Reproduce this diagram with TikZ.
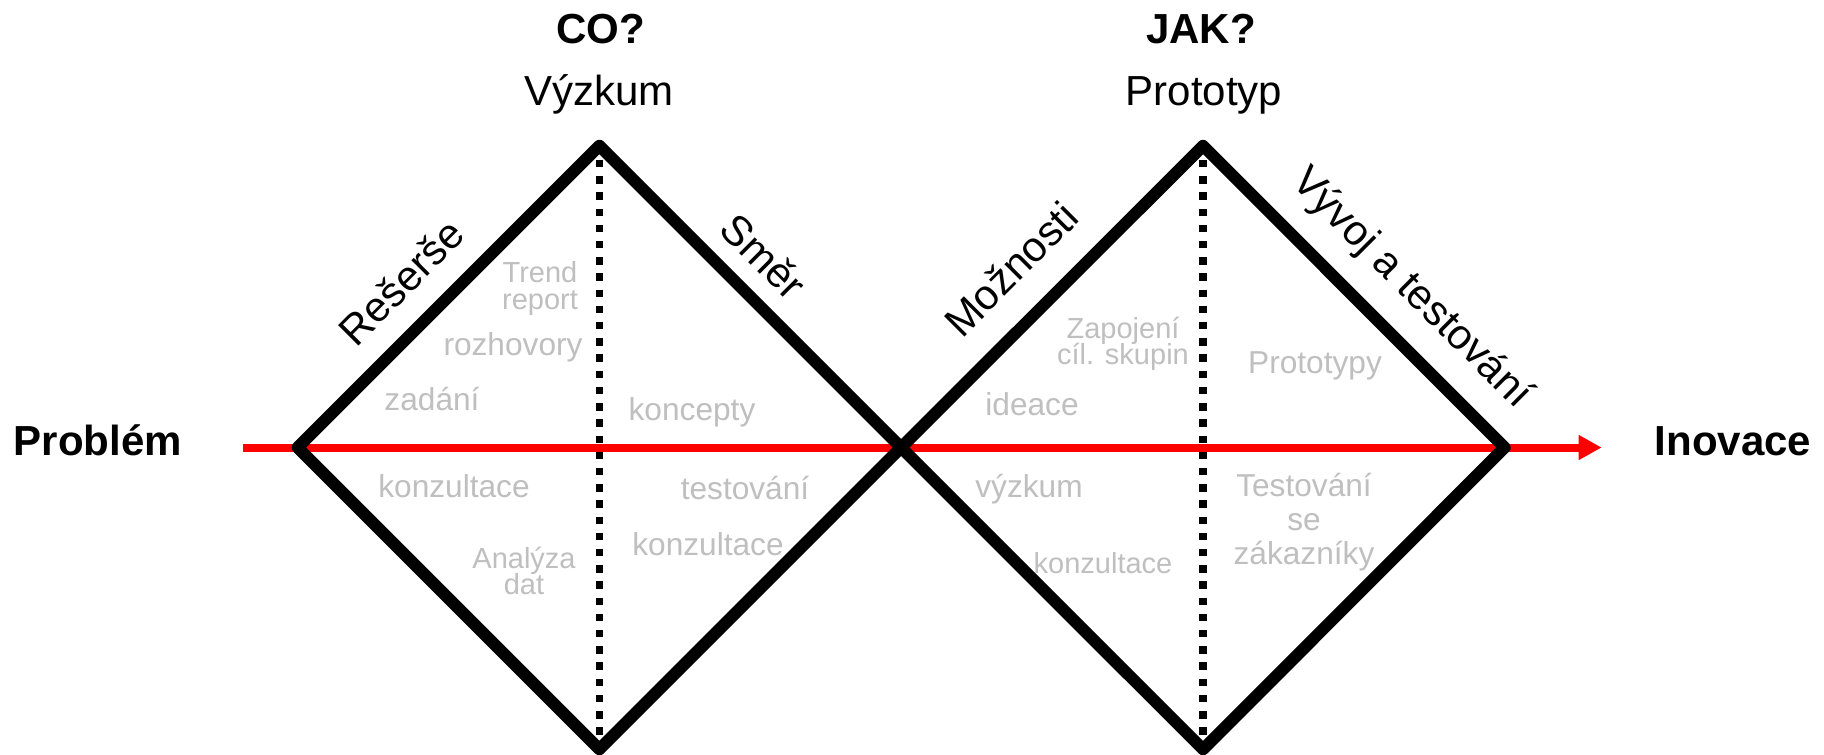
\documentclass[tikz,border=0pt]{standalone}
\usepackage{fontspec}
\setmainfont{Liberation Sans}
\usetikzlibrary{arrows.meta}
\definecolor{notegray}{RGB}{191,191,191}
\definecolor{flowred}{RGB}{255,0,0}
\setlength{\lineskiplimit}{-100pt}
\begin{document}
\begin{tikzpicture}[x=0.01cm,y=-0.01cm,
  blacklabel/.style={inner sep=0pt, text=black, font=\fontsize{11.95pt}{14pt}\selectfont},
  boldlabel/.style={inner sep=0pt, text=black, font=\fontsize{11.95pt}{14pt}\selectfont\bfseries},
  note/.style={inner sep=0pt, text=notegray, align=center, font=\fontsize{9pt}{9.8pt}\selectfont},
  smallnote/.style={inner sep=0pt, text=notegray, align=center, font=\fontsize{8.25pt}{7.5pt}\selectfont},
  diamondline/.style={draw=black, line width=0.12cm, line join=round},
  axisline/.style={draw=black, line width=0.076cm, dash pattern=on 0.074cm off 0.088cm, dash phase=0.02cm},
  flowarrow/.style={draw=flowred, line width=0.08cm, -{Triangle[length=0.23cm,width=0.235cm]}}
]
\useasboundingbox (0,0) rectangle (1824,754);
\fill[white] (0,0) rectangle (1824,754);
\clip (0,0) rectangle (1824,754);

% vertices
\coordinate (L)  at (297.7,447.5);
\coordinate (T1) at (599.4,145.75);
\coordinate (M)  at (901.2,447.5);
\coordinate (B1) at (599.4,749.25);
\coordinate (T2) at (1203,145.75);
\coordinate (R)  at (1504.7,447.5);
\coordinate (B2) at (1203,749.25);
\coordinate (start) at (243,447.5);
\coordinate (tip) at (1601.7,447.5);

% dotted axes
\draw[axisline] (T1) -- (B1);
\draw[axisline] (T2) -- (B2);

% red flow arrow
\draw[flowarrow] (start) -- (tip);

% diamonds
\draw[diamondline] (L) -- (T1) -- (M) -- (B1) -- cycle;
\draw[diamondline] (M) -- (T2) -- (R) -- (B2) -- cycle;

% side labels
\node[boldlabel, anchor=base west] (problem) at (13,455) {Problém};
\node[boldlabel, anchor=base west] (inovace) at (1654,455) {Inovace};

% titles
\node[boldlabel, anchor=base] (co) at (601,43) {CO?};
\node[blacklabel, anchor=base] (vyzkum) at (599,105) {Výzkum};
\node[boldlabel, anchor=base] (jak) at (1201,43) {JAK?};
\node[blacklabel, anchor=base] (prototyp) at (1204,105) {Prototyp};

% edge labels
\node[blacklabel, rotate=45] (reserse) at (401,282) {Rešerše};
\node[blacklabel, rotate=-45] (smer) at (764,256) {Směr};
\node[blacklabel, rotate=45] (moznosti) at (1011,269) {Možnosti};
\node[blacklabel, rotate=-45] (vyvoj) at (1411,289) {Vývoj a testování};

% gray notes, first diamond
\node[smallnote, anchor=north] (trend) at (540,261) {Trend\\report};
\node[note, anchor=base] (rozhovory) at (513,355) {rozhovory};
\node[note, anchor=base] (zadani) at (432,410) {zadání};
\node[note, anchor=base] (koncepty) at (692,420) {koncepty};
\node[note, anchor=base] (konzA) at (454,497) {konzultace};
\node[smallnote, anchor=north] (analyza) at (524,546) {Analýza\\dat};
\node[note, anchor=base] (testovaniA) at (745,499) {testování};
\node[note, anchor=base] (konzB) at (708,555) {konzultace};

% gray notes, second diamond
\node[note, anchor=base] (ideace) at (1032,415) {ideace};
\node[smallnote, anchor=north] (zapojeni) at (1123,316) {Zapojení\\cíl. skupin};
\node[note, anchor=base] (prototypy) at (1315,373) {Prototypy};
\node[note, anchor=base] (vyzkumB) at (1029,497) {výzkum};
\node[smallnote, anchor=base] (konzC) at (1103,573) {konzultace};
\node[note, anchor=north] (testovaniB) at (1304,472) {Testování\\se\\zákazníky};
\end{tikzpicture}
\end{document}
